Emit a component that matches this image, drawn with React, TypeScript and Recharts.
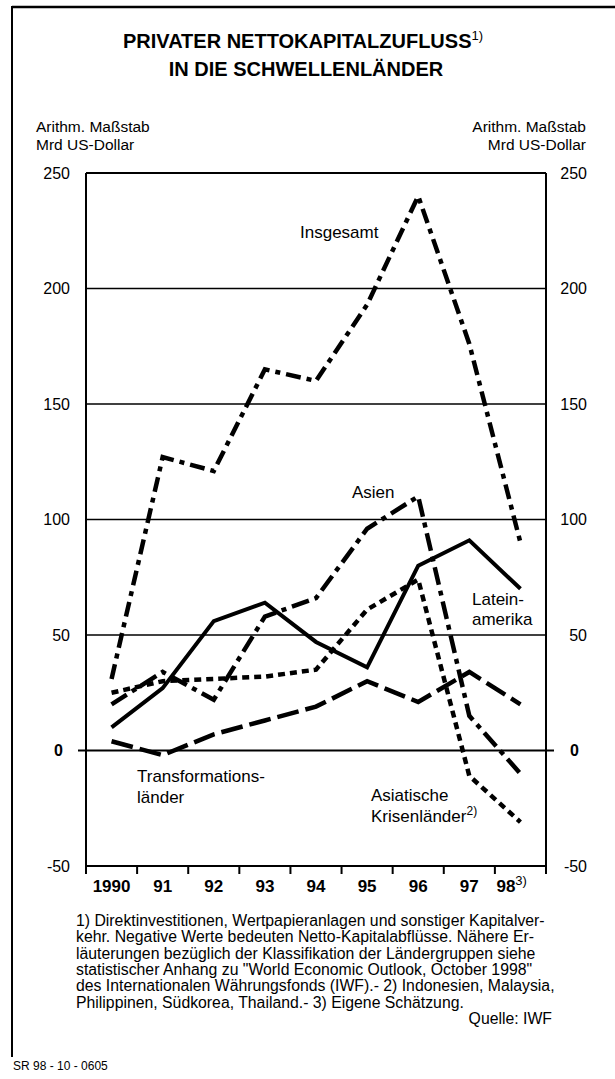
import React from 'react';
import { LineChart, Line, XAxis, YAxis, ReferenceLine } from 'recharts';

const years = ['1990', '91', '92', '93', '94', '95', '96', '97', '98'];
const insgesamt = [31, 127, 121, 165, 160, 193, 240, 176, 90];
const asien = [20, 34, 22, 58, 66, 96, 110, 15, -10];
const lateinamerika = [10, 27, 56, 64, 47, 36, 80, 91, 70];
const transformationslaender = [4, -2, 7, 13, 19, 30, 21, 34, 20];
const asiatischeKrisenlaender = [25, 30, 31, 32, 35, 61, 74, -11, -31];
const yTicks = [-50, 0, 50, 100, 150, 200, 250];
const gridValues = [50, 100, 150, 200];

const titleLine1 = 'PRIVATER NETTOKAPITALZUFLUSS';
const titleLine2 = 'IN DIE SCHWELLENLÄNDER';
const unitLine1 = 'Arithm. Maßstab';
const unitLine2 = 'Mrd US-Dollar';
const footnotes = [
  '1) Direktinvestitionen, Wertpapieranlagen und sonstiger Kapitalver-',
  'kehr. Negative Werte bedeuten Netto-Kapitalabflüsse. Nähere Er-',
  'läuterungen bezüglich der Klassifikation der Ländergruppen siehe',
  'statistischer Anhang zu "World Economic Outlook, October 1998"',
  'des Internationalen Währungsfonds (IWF).- 2) Indonesien, Malaysia,',
  'Philippinen, Südkorea, Thailand.- 3) Eigene Schätzung.',
];
const source = 'Quelle: IWF';
const code = 'SR 98 - 10 - 0605';

const data = years.map((year, i) => ({
  year,
  insgesamt: insgesamt[i],
  asien: asien[i],
  lateinamerika: lateinamerika[i],
  transformationslaender: transformationslaender[i],
  krisen: asiatischeKrisenlaender[i],
}));

const W = 615;
const H = 1079;
const PLOT_L = 86;
const PLOT_R = 546;
const PLOT_T = 173;
const PLOT_B = 866;
const Y_AXIS_W = 60;
const X_AXIS_H = 40;
const HALF_BAND = (PLOT_R - PLOT_L) / years.length / 2;
const FONT = '"Liberation Sans", Arial, Helvetica, sans-serif';

const LeftTick = (props: any) => {
  const { x, y, payload } = props;
  const v = payload.value;
  if (v === 0) {
    return (
      <g>
        <line x1={x + 8} x2={x + 16} y1={y} y2={y} stroke="#000" strokeWidth={2} />
        <text x={x - 7} y={y} dy="0.36em" textAnchor="end" fontWeight="bold" fontSize={16} fontFamily={FONT} fill="#000">0</text>
      </g>
    );
  }
  return (
    <text x={x} y={y} dy="0.36em" textAnchor="end" fontSize={16} fontFamily={FONT} fill="#000">{v}</text>
  );
};

const RightTick = (props: any) => {
  const { x, y, payload } = props;
  const v = payload.value;
  if (v === 0) {
    return (
      <g>
        <line x1={x - 16} x2={x - 8} y1={y} y2={y} stroke="#000" strokeWidth={2} />
        <text x={x + 8} y={y} dy="0.36em" textAnchor="start" fontWeight="bold" fontSize={16} fontFamily={FONT} fill="#000">0</text>
      </g>
    );
  }
  return (
    <text x={x + 25} y={y} dy="0.36em" textAnchor="end" fontSize={16} fontFamily={FONT} fill="#000">{v}</text>
  );
};

const BottomTick = (props: any) => {
  const { x, y, payload, index } = props;
  const isLast = index === years.length - 1;
  const top = y - 12;
  const bottom = y - 4;
  return (
    <g>
      <line x1={x - HALF_BAND} x2={x - HALF_BAND} y1={top} y2={bottom} stroke="#000" strokeWidth={2} />
      {isLast && (
        <line x1={x + HALF_BAND} x2={x + HALF_BAND} y1={top} y2={bottom} stroke="#000" strokeWidth={2} />
      )}
      {isLast ? (
        <text x={x - 24} y={y} dy={14} textAnchor="start" fontWeight="bold" fontSize={17} fontFamily={FONT} fill="#000">
          {payload.value}
          <tspan fontSize={13} dy={-7} fontWeight="normal">3)</tspan>
        </text>
      ) : (
        <text x={x} y={y} dy={14} textAnchor="middle" fontWeight="bold" fontSize={17} fontFamily={FONT} fill="#000">
          {payload.value}
        </text>
      )}
    </g>
  );
};

const lineCommon = {
  stroke: '#000',
  dot: false as const,
  activeDot: false as const,
  isAnimationActive: false,
  strokeLinecap: 'butt' as const,
  strokeLinejoin: 'miter' as const,
  type: 'linear' as const,
};

export default function App() {
  return (
    <div style={{ position: 'absolute', left: 0, top: 0, width: W, height: H, background: '#fff', fontFamily: FONT, overflow: 'hidden' }}>
      <LineChart
        width={W}
        height={H}
        data={data}
        margin={{ top: PLOT_T, left: PLOT_L - Y_AXIS_W, right: W - PLOT_R - Y_AXIS_W, bottom: H - PLOT_B - X_AXIS_H }}
      >
        <XAxis
          dataKey="year"
          type="category"
          height={X_AXIS_H}
          padding={{ left: HALF_BAND, right: HALF_BAND }}
          axisLine={{ stroke: '#000', strokeWidth: 2 }}
          tickLine={false}
          tickSize={7}
          tickMargin={5}
          interval={0}
          tick={<BottomTick />}
        />
        <YAxis
          yAxisId="left"
          orientation="left"
          width={Y_AXIS_W}
          domain={[-50, 250]}
          ticks={yTicks}
          type="number"
          allowDataOverflow
          axisLine={{ stroke: '#000', strokeWidth: 2 }}
          tickLine={false}
          tickSize={8}
          tickMargin={8}
          interval={0}
          tick={<LeftTick />}
        />
        <YAxis
          yAxisId="right"
          orientation="right"
          width={Y_AXIS_W}
          domain={[-50, 250]}
          ticks={yTicks}
          type="number"
          allowDataOverflow
          axisLine={{ stroke: '#000', strokeWidth: 2 }}
          tickLine={false}
          tickSize={8}
          tickMargin={8}
          interval={0}
          tick={<RightTick />}
        />
        {gridValues.map((g) => (
          <ReferenceLine key={g} yAxisId="left" y={g} stroke="#000" strokeWidth={1.5} />
        ))}
        <ReferenceLine yAxisId="left" y={250} stroke="#000" strokeWidth={2} />
        <ReferenceLine yAxisId="left" y={0} stroke="#000" strokeWidth={2} />
        <Line {...lineCommon} yAxisId="left" dataKey="transformationslaender" strokeWidth={4.5} strokeDasharray="22 7" />
        <Line {...lineCommon} yAxisId="left" dataKey="krisen" strokeWidth={4.5} strokeDasharray="7 5" />
        <Line {...lineCommon} yAxisId="left" dataKey="asien" strokeWidth={4.5} strokeDasharray="18 6 5 6" />
        <Line {...lineCommon} yAxisId="left" dataKey="insgesamt" strokeWidth={4.5} strokeDasharray="15 6 5 6" />
        <Line {...lineCommon} yAxisId="left" dataKey="lateinamerika" strokeWidth={4} />
      </LineChart>

      <svg width={W} height={H} style={{ position: 'absolute', left: 0, top: 0, pointerEvents: 'none' }}>
        <line x1={12} x2={W} y1={7} y2={7} stroke="#000" strokeWidth={2.5} />
        <line x1={12} x2={12} y1={6} y2={1057} stroke="#000" strokeWidth={2} />

        <g fontFamily={FONT} fill="#000">
          <text x={303} y={48} textAnchor="middle" fontWeight="bold" fontSize={20}>
            {titleLine1}
            <tspan fontSize={13} dy={-8} fontWeight="normal">1)</tspan>
          </text>
          <text x={306} y={76} textAnchor="middle" fontWeight="bold" fontSize={20}>{titleLine2}</text>

          <text x={36} y={132} fontSize={15.5}>{unitLine1}</text>
          <text x={36} y={150} fontSize={15.5}>{unitLine2}</text>
          <text x={586} y={132} fontSize={15.5} textAnchor="end">{unitLine1}</text>
          <text x={586} y={150} fontSize={15.5} textAnchor="end">{unitLine2}</text>

          <text x={300} y={238} fontSize={17}>Insgesamt</text>
          <text x={352} y={498} fontSize={17}>Asien</text>
          <text x={472} y={605} fontSize={17}>Latein-</text>
          <text x={472} y={625} fontSize={17}>amerika</text>
          <text x={137} y={782} fontSize={17}>Transformations-</text>
          <text x={137} y={803} fontSize={17}>länder</text>
          <text x={371} y={801} fontSize={17}>Asiatische</text>
          <text x={371} y={822} fontSize={17}>
            Krisenländer
            <tspan fontSize={12} dy={-7}>2)</tspan>
          </text>

          {footnotes.map((line, i) => (
            <text key={i} x={76} y={926 + i * 16.3} fontSize={15.8}>{line}</text>
          ))}
          <text x={552} y={926 + 6 * 16.3} fontSize={15.8} textAnchor="end">{source}</text>
          <text x={13} y={1070} fontSize={12}>{code}</text>
        </g>
      </svg>
    </div>
  );
}
